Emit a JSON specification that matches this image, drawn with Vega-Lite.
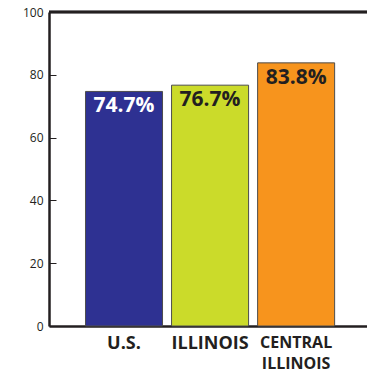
{
  "$schema": "https://vega.github.io/schema/vega-lite/v6.json",
  "width": 318,
  "height": 314,
  "autosize": {"type": "none"},
  "padding": {"left": 49, "top": 12, "right": 0, "bottom": 48},
  "background": "white",
  "config": {"view": {"stroke": null}, "font": "Open Sans"},
  "data": {"values": [
    {"region": "U.S.", "pct": 74.7, "label": "74.7%", "color": "#2e3192", "textColor": "#ffffff"},
    {"region": "ILLINOIS", "pct": 76.7, "label": "76.7%", "color": "#cbdb2a", "textColor": "#231f20"},
    {"region": "CENTRAL ILLINOIS", "pct": 83.8, "label": "83.8%", "color": "#f7941d", "textColor": "#231f20"}
  ]},
  "encoding": {
    "x": {
      "field": "region", "type": "nominal", "sort": null,
      "scale": {"paddingInner": 0.105, "paddingOuter": 0.4, "align": 0.53},
      "axis": {
        "title": null, "ticks": false, "labelAngle": 0,
        "domainColor": "#231f20", "domainWidth": 2.5,
        "labelColor": "#231f20", "labelFont": "Open Sans", "labelFontWeight": "bold",
        "labelFontSize": {"condition": {"test": "datum.label == 'CENTRAL ILLINOIS'", "value": 16}, "value": 18},
        "labelPadding": 8, "labelLineHeight": 21, "labelBaseline": "top",
        "labelExpr": "datum.label == 'CENTRAL ILLINOIS' ? ['CENTRAL', 'ILLINOIS'] : datum.label"
      }
    },
    "y": {
      "field": "pct", "type": "quantitative",
      "scale": {"domain": [0, 100], "nice": false},
      "axis": {
        "title": null, "grid": false, "values": [0, 20, 40, 60, 80, 100],
        "domainColor": "#231f20", "domainWidth": 2.5,
        "tickColor": "#231f20", "tickSize": -7, "tickWidth": 1,
        "labelColor": "#231f20", "labelFontSize": 12, "labelPadding": 13,
        "labelFont": "Open Sans"
      }
    }
  },
  "layer": [
    {
      "mark": {"type": "bar", "stroke": "#4d4d4d", "strokeWidth": 1},
      "encoding": {"color": {"field": "color", "type": "nominal", "scale": null}}
    },
    {
      "mark": {"type": "text", "baseline": "top", "dy": 4, "fontSize": 21, "fontWeight": "bold", "font": "Open Sans"},
      "encoding": {
        "text": {"field": "label"},
        "color": {"field": "textColor", "type": "nominal", "scale": null}
      }
    },
    {
      "mark": {"type": "rule", "color": "#231f20", "strokeWidth": 2.5},
      "encoding": {"y": {"datum": 100}, "x": null}
    }
  ]
}
